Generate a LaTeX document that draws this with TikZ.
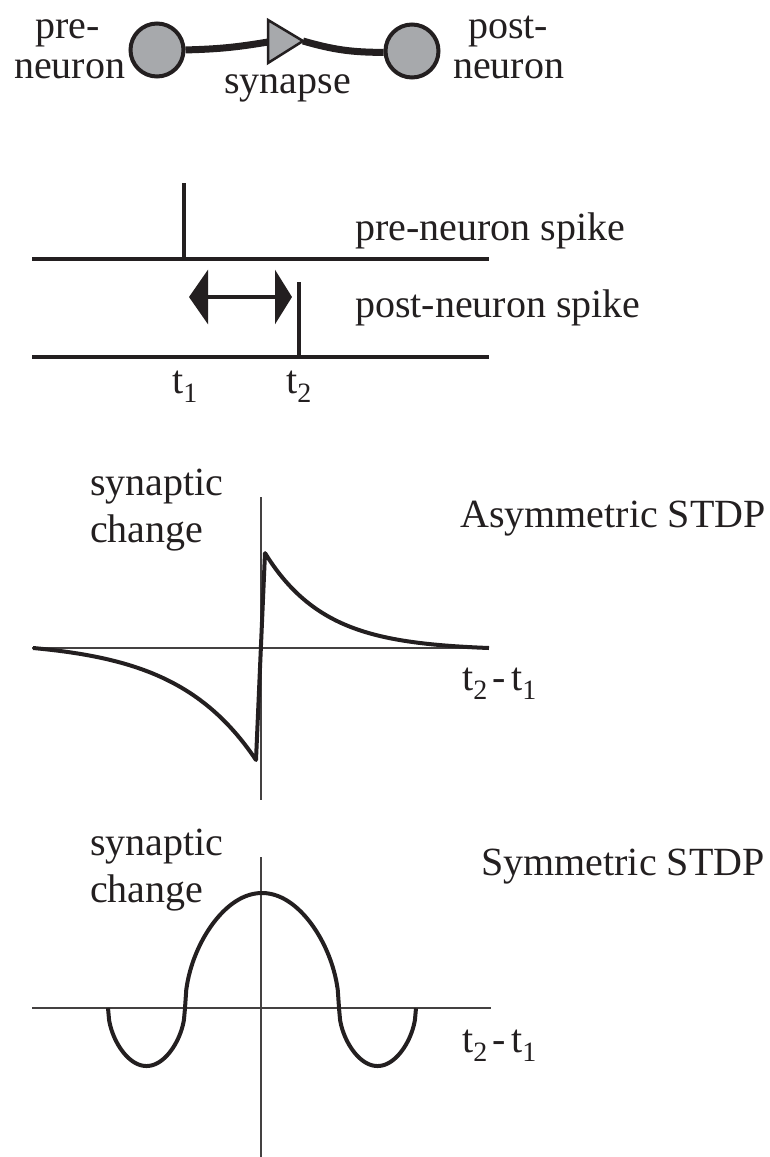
\documentclass[tikz,border=0pt]{standalone}
\usepackage{fontspec}
\setmainfont{Liberation Serif}
\usetikzlibrary{arrows.meta}
\definecolor{ink}{HTML}{231F20}
\definecolor{cellgray}{HTML}{A7A9AC}
\begin{document}
\begin{tikzpicture}[x=1pt,y=-1pt,
  font=\fontsize{40}{47}\selectfont,
  every node/.style={inner sep=0pt, text=ink},
  lbl/.style={anchor=base west},
  neuron/.style={circle, draw=ink, fill=cellgray, line width=4, minimum size=53},
  axisline/.style={line width=1.5, draw=ink!85},
  curveline/.style={line width=4, draw=ink, line join=round},
  spikeline/.style={line width=4, draw=ink},
  linkline/.style={line width=7, draw=ink},
  diffarrow/.style={line width=3.5, draw=ink, fill=ink,
    {Triangle[length=19pt,width=54pt]}-{Triangle[length=17pt,width=54pt]}}]
\path[use as bounding box] (0,0) rectangle (769,1157);

% ---- top: neurons and synapse
\node[neuron] (pre) at (157,50) {};
\node[neuron] (post) at (412,51) {};
\coordinate (synA) at (268,20);
\coordinate (synTip) at (303,41);
\coordinate (synB) at (268,63);
\coordinate (synBase) at (268,42);
\draw[linkline] (pre) to[bend right=4] (synBase);
\draw[linkline] (synTip) to[bend right=8] (post);
\filldraw[fill=cellgray, draw=ink, line width=2.5] (synA) -- (synTip) -- (synB) -- cycle;
\node[lbl] (preA) at (35,38) {pre-};
\node[lbl] (preB) at (14,78) {neuron};
\node[lbl] (synlbl) at (224,93) {synapse};
\node[lbl] (postA) at (468,38) {post-};
\node[lbl] (postB) at (453,78) {neuron};

% ---- spikes
\coordinate (b1L) at (32,259); \coordinate (b1R) at (489,259);
\coordinate (s1T) at (184,183); \coordinate (s1B) at (184,259);
\coordinate (b2L) at (32,357); \coordinate (b2R) at (489,357);
\coordinate (s2T) at (299,282); \coordinate (s2B) at (299,357);
\draw[spikeline] (b1L) -- (b1R);
\draw[spikeline] (s1T) -- (s1B);
\draw[spikeline] (b2L) -- (b2R);
\draw[spikeline] (s2T) -- (s2B);
\coordinate (arrL) at (189,297); \coordinate (arrR) at (292,297);
\draw[diffarrow] (arrL) -- (arrR);
\node[lbl] (prespike) at (355,240) {pre-neuron spike};
\node[lbl] (postspike) at (355,317) {post-neuron spike};
\node[lbl] (tone) at (172,393) {t\textsubscript{1}};
\node[lbl] (ttwo) at (286,393) {t\textsubscript{2}};

% ---- asymmetric STDP
\coordinate (a1L) at (32,648); \coordinate (a1R) at (489,648);
\coordinate (a1T) at (261,497); \coordinate (a1B) at (261,800);
\draw[axisline] (a1L) -- (a1R);
\draw[axisline] (a1T) -- (a1B);
\draw[curveline] plot[domain=33:256, samples=80, smooth] (\x, {648 + 112*(exp((\x-256)/80) - 0.0616)/0.9384})
  -- (265,553)
  -- plot[domain=265:489, samples=80, smooth] (\x, {648 - 95*(exp(-(\x-265)/60) - 0.0239)/0.9761});
\node[lbl] (synA1) at (90,495) {synaptic};
\node[lbl] (chgA1) at (90,542) {change};
\node[lbl] (asym) at (460,527) {Asymmetric STDP};
\node[lbl] (dtA) at (462,690) {t\textsubscript{2}\kern5pt-\kern5pt t\textsubscript{1}};

% ---- symmetric STDP
\coordinate (a2L) at (32,1008); \coordinate (a2R) at (491,1008);
\coordinate (a2T) at (261,857); \coordinate (a2B) at (261,1157);
\draw[axisline] (a2L) -- (a2R);
\draw[axisline] (a2T) -- (a2B);
\draw[curveline] plot[domain=108:185, samples=70] (\x, {1008 + 58*sqrt(abs(cos((\x-146.5)/38.5*90)))})
  -- plot[domain=185:339, samples=120] (\x, {1008 - 115*sqrt(abs(cos((\x-262)/77*90)))})
  -- plot[domain=339:416, samples=70] (\x, {1008 + 58*sqrt(abs(cos((\x-377.5)/38.5*90)))});
\node[lbl] (synA2) at (90,855) {synaptic};
\node[lbl] (chgA2) at (90,902) {change};
\node[lbl] (sym) at (481,875) {Symmetric STDP};
\node[lbl] (dtB) at (462,1052) {t\textsubscript{2}\kern5pt-\kern5pt t\textsubscript{1}};
\end{tikzpicture}
\end{document}
